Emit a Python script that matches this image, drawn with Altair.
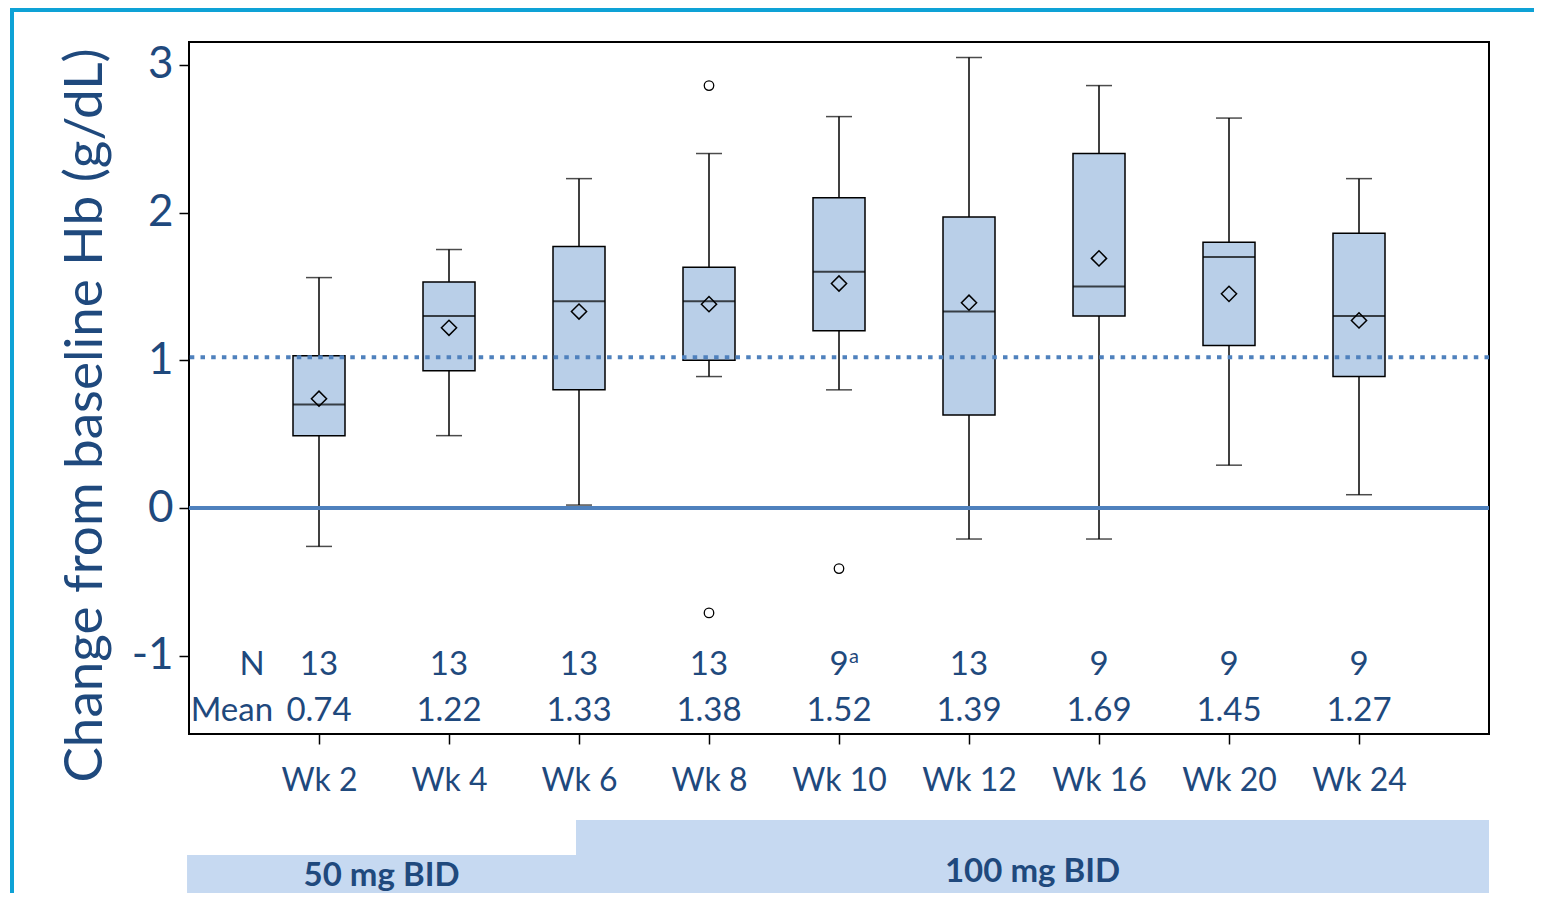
import altair as alt
import pandas as pd

# ---- data ----
weeks = ["Wk 2", "Wk 4", "Wk 6", "Wk 8", "Wk 10", "Wk 12", "Wk 16", "Wk 20", "Wk 24"]
n_values = ["13", "13", "13", "13", "9", "13", "9", "9", "9"]
n_sup = ["", "", "", "", "a", "", "", "", ""]
means = [0.74, 1.22, 1.33, 1.38, 1.52, 1.39, 1.69, 1.45, 1.27]
whisker_low = [-0.26, 0.49, 0.02, 0.89, 0.80, -0.21, -0.21, 0.29, 0.09]
q1 = [0.49, 0.93, 0.80, 1.00, 1.20, 0.63, 1.30, 1.10, 0.89]
median = [0.70, 1.30, 1.40, 1.40, 1.60, 1.33, 1.50, 1.70, 1.30]
q3 = [1.03, 1.53, 1.77, 1.63, 2.10, 1.97, 2.40, 1.80, 1.86]
whisker_high = [1.56, 1.75, 2.23, 2.40, 2.65, 3.05, 2.86, 2.64, 2.23]
outlier_week = ["Wk 8", "Wk 8", "Wk 10"]
outlier_value = [2.86, -0.71, -0.41]
ref_solid = [0.0]
ref_dotted = [1.02]
phase_labels = ["50 mg BID", "100 mg BID"]
phase_start = [-0.015, 2.977]
phase_end = [2.977, 10.0]
phase_top = [-2.349, -2.112]
phase_bottom = [-2.607, -2.607]
phase_text_y = [-2.49, -2.463]
y_ticks = [-1, 0, 1, 2, 3]

TEXT = "#1f497d"
BOX = "#b9cfe8"
BAND = "#c6d9f1"
REF = "#4f81bd"
FRAME = "#0ea2d6"
FONT = "Lato"

pos = list(range(1, len(weeks) + 1))
df = pd.DataFrame({
    "pos": pos, "week": weeks, "n": n_values, "sup": n_sup, "mean": means,
    "lo": whisker_low, "q1": q1, "med": median, "q3": q3, "hi": whisker_high,
})
out_df = pd.DataFrame({"pos": [pos[weeks.index(w)] for w in outlier_week], "val": outlier_value})
phase_df = pd.DataFrame({"label": phase_labels, "x": phase_start, "x2": phase_end,
                         "y": phase_top, "y2": phase_bottom, "ty": phase_text_y})
phase_df["xm"] = (phase_df["x"] + phase_df["x2"]) / 2

label_arr = "[" + ",".join(["''"] + [f"'{w}'" for w in weeks] + ["''"]) + "]"

xscale = alt.Scale(domain=[0, 10], nice=False, zero=False, padding=0)
yscale = alt.Scale(domain=[-1.53, 3.155], nice=False, zero=False, padding=0)

xaxis = alt.Axis(values=pos, labelExpr=f"{label_arr}[datum.value]", title=None,
                 grid=False, domain=False, tickColor="black", tickSize=10, tickWidth=1.5,
                 labelFontSize=32, labelColor=TEXT, labelFont=FONT, labelPadding=21)
yaxis = alt.Axis(values=y_ticks,
                 labelExpr="datum.value < 0 ? '-' + abs(datum.value) : '' + datum.value",
                 title="Change from baseline Hb (g/dL)", titleFontSize=53, titleColor=TEXT,
                 titleFont=FONT, titleFontWeight="normal", titleX=-104, titleY=373,
                 titleAngle=270, titleAlign="center", titleBaseline="middle",
                 grid=False, domain=False, tickColor="black", tickSize=10, tickWidth=1.5,
                 labelFontSize=44, labelColor=TEXT, labelFont=FONT, labelPadding=6)

base = alt.Chart(df)
X = alt.X("pos:Q", scale=xscale, axis=xaxis)

bands = alt.Chart(phase_df).mark_rect(color=BAND, clip=False).encode(
    x=alt.X("x:Q", scale=xscale, axis=xaxis), x2="x2:Q",
    y=alt.Y("y:Q", scale=yscale, axis=yaxis), y2="y2:Q")
band_text = alt.Chart(phase_df).mark_text(fontSize=33, fontWeight="bold", color=TEXT,
                                           font=FONT, baseline="middle").encode(
    x=alt.X("xm:Q", scale=xscale), y=alt.Y("ty:Q", scale=yscale), text="label:N")

whisk = base.mark_rule(color="black", strokeWidth=1.5).encode(
    x=X, y=alt.Y("lo:Q", scale=yscale, axis=yaxis), y2="hi:Q")
caps_hi = base.mark_tick(color="black", orient="horizontal", size=26, thickness=1.5).encode(
    x=X, y=alt.Y("hi:Q", scale=yscale))
caps_lo = base.mark_tick(color="black", orient="horizontal", size=26, thickness=1.5).encode(
    x=X, y=alt.Y("lo:Q", scale=yscale))
box = base.mark_bar(size=52, color=BOX, stroke="black", strokeWidth=1.5).encode(
    x=X, y=alt.Y("q1:Q", scale=yscale), y2="q3:Q")
med = base.mark_tick(color="black", orient="horizontal", size=52, thickness=2).encode(
    x=X, y=alt.Y("med:Q", scale=yscale))

ref0 = alt.Chart(pd.DataFrame({"v": ref_solid})).mark_rule(color=REF, strokeWidth=4).encode(
    y=alt.Y("v:Q", scale=yscale))
ref1 = alt.Chart(pd.DataFrame({"v": ref_dotted})).mark_rule(
    color=REF, strokeWidth=4, strokeDash=[4.5, 6.2]).encode(y=alt.Y("v:Q", scale=yscale))

mean_pts = base.mark_point(shape="diamond", size=230, filled=False, color="black",
                           strokeWidth=1.5, opacity=1).encode(
    x=X, y=alt.Y("mean:Q", scale=yscale))
outl = alt.Chart(out_df).mark_point(shape="circle", size=90, filled=False, color="black",
                                    strokeWidth=1.3, opacity=1).encode(
    x=alt.X("pos:Q", scale=xscale), y=alt.Y("val:Q", scale=yscale))

n_text = base.mark_text(fontSize=33, color=TEXT, font=FONT, baseline="middle").encode(
    x=X, y=alt.datum(-1.065), text="n:N")
sup_text = base.mark_text(fontSize=20, color=TEXT, font=FONT, baseline="middle", dx=15, dy=-8).encode(
    x=X, y=alt.datum(-1.065), text="sup:N")
mean_text = base.mark_text(fontSize=33, color=TEXT, font=FONT, baseline="middle").encode(
    x=X, y=alt.datum(-1.375), text=alt.Text("mean:Q", format=".2f"))
row_lbl = alt.Chart(pd.DataFrame({"lab": ["N", "Mean"], "x": [0.485, 0.33], "y": [-1.065, -1.375]})).mark_text(
    fontSize=33, color=TEXT, font=FONT, baseline="middle").encode(
    x=alt.X("x:Q", scale=xscale), y=alt.Y("y:Q", scale=yscale), text="lab:N")

one = alt.Data(values=[{}])
frame_left = alt.Chart(one).mark_rule(color=FRAME, strokeWidth=4).encode(
    x=alt.value(-177), y=alt.value(-34), y2=alt.value(870))
frame_top = alt.Chart(one).mark_rule(color=FRAME, strokeWidth=4).encode(
    x=alt.value(-179), x2=alt.value(1360), y=alt.value(-32))

chart = alt.layer(
    bands, band_text, whisk, caps_hi, caps_lo, box, med, ref0, ref1,
    mean_pts, outl, n_text, sup_text, mean_text, row_lbl, frame_left, frame_top,
).properties(
    width=1300, height=692,
    autosize=alt.AutoSizeParams(type="none"),
    padding={"left": 181, "top": 34, "right": 45, "bottom": 159},
).configure(
    font=FONT
).configure_view(
    stroke="black", strokeWidth=2
)

chart.save("out.html", embed_options={"renderer": "svg", "actions": False})
